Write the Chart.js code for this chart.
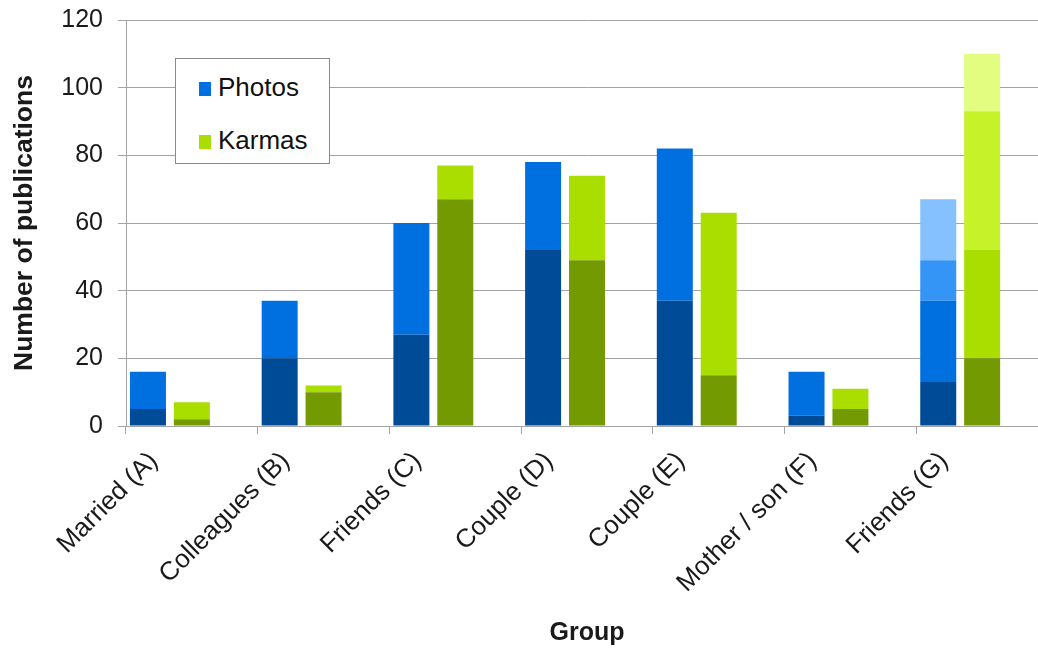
<!DOCTYPE html>
<html>
<head>
<meta charset="utf-8">
<script src="https://cdn.jsdelivr.net/npm/chart.js@4/dist/chart.umd.min.js"></script>
<style>
  html, body { margin: 0; padding: 0; background: #fff; overflow: hidden; }
  #wrap { position: relative; width: 1038px; height: 654px; overflow: hidden; }
  canvas { position: absolute; left: 0; top: 0; }
  #legend {
    position: absolute; left: 175px; top: 58px; width: 153px; height: 104px;
    border: 1px solid #8a8a8a; background: #fff;
    font-family: "Liberation Sans", Arial, sans-serif; font-size: 26px; color: #111;
  }
  .item { position: absolute; left: 23px; height: 28px; line-height: 28px; white-space: nowrap; }
  .sw { display: inline-block; width: 12px; height: 14px; margin-right: 7px; vertical-align: 0px; }
</style>
</head>
<body>
<div id="wrap">
  <canvas id="c" width="1048" height="654"></canvas>
  <div id="legend">
    <div class="item" style="top:14px"><span class="sw" style="background:#0070e0"></span>Photos</div>
    <div class="item" style="top:67px"><span class="sw" style="background:#aade00"></span>Karmas</div>
  </div>
</div>
<script>
// Groups of users
const groups = ['Married (A)', 'Colleagues (B)', 'Friends (C)', 'Couple (D)', 'Couple (E)', 'Mother / son (F)', 'Friends (G)'];

// Photos: stacked segments per group (one segment per member)
const photosSeg1 = [5, 20, 27, 52, 37, 3, 13];
const photosSeg2 = [11, 17, 33, 26, 45, 13, 24];
const photosSeg3 = [null, null, null, null, null, null, 12];
const photosSeg4 = [null, null, null, null, null, null, 18];

// Karmas: stacked segments per group
const karmasSeg1 = [2, 10, 67, 49, 15, 5, 20];
const karmasSeg2 = [5, 2, 10, 25, 48, 6, 32];
const karmasSeg3 = [null, null, null, null, null, null, 41];
const karmasSeg4 = [null, null, null, null, null, null, 17];

// Empty third slot in every group
const spacer = [null, null, null, null, null, null, null];

const yTicks = [0, 20, 40, 60, 80, 100, 120];

const FONT = '"Liberation Sans", Arial, sans-serif';
const GRID = '#a3a3a3';

function seg(label, data, color, stack) {
  return { label, data, backgroundColor: color, stack, borderWidth: 0,
           categoryPercentage: 1.0, barPercentage: 0.82 };
}

new Chart(document.getElementById('c'), {
  type: 'bar',
  data: {
    labels: groups,
    datasets: [
      seg('Photos', photosSeg1, '#004b98', 'photos'),
      seg('Photos 2', photosSeg2, '#0070e0', 'photos'),
      seg('Photos 3', photosSeg3, '#3595f7', 'photos'),
      seg('Photos 4', photosSeg4, '#85c0ff', 'photos'),
      seg('Karmas', karmasSeg1, '#739a00', 'karmas'),
      seg('Karmas 2', karmasSeg2, '#aade00', 'karmas'),
      seg('Karmas 3', karmasSeg3, '#c6f22a', 'karmas'),
      seg('Karmas 4', karmasSeg4, '#e2fd80', 'karmas'),
      seg('', spacer, 'rgba(0,0,0,0)', 'spacer')
    ]
  },
  options: {
    responsive: false,
    animation: false,
    layout: { padding: { top: 20, left: 0, right: 0, bottom: 0 } },
    plugins: { legend: { display: false }, tooltip: { enabled: false } },
    scales: {
      x: {
        stacked: true,
        grid: { offset: true, drawOnChartArea: false, drawTicks: true, tickLength: 8, color: GRID },
        border: { display: true, color: GRID, width: 1 },
        ticks: {
          minRotation: 45, maxRotation: 45, autoSkip: false, padding: 12, labelOffset: -38,
          color: '#1a1a1a', font: { family: FONT, size: 26 }
        },
        title: {
          display: true, text: 'Group', color: '#1a1a1a',
          font: { family: FONT, size: 25, weight: 'bold' }, padding: { top: 0, bottom: 6 }
        },
        afterFit: (s) => { s.height = 228; s.paddingLeft = 0; s.paddingRight = 0; }
      },
      y: {
        stacked: true,
        min: 0, max: 120,
        afterBuildTicks: (s) => { s.ticks = yTicks.map(v => ({ value: v })); },
        grid: { color: GRID, lineWidth: 1, tickLength: 8 },
        border: { display: true, color: GRID, width: 1 },
        ticks: { padding: 15, color: '#1a1a1a', font: { family: FONT, size: 25 } },
        title: {
          display: true, text: 'Number of publications', color: '#1a1a1a',
          font: { family: FONT, size: 26.5, weight: 'bold' }, padding: { top: 9, bottom: 0 }
        },
        afterFit: (s) => { s.width = 126; s.paddingTop = 0; s.paddingBottom = 0; }
      }
    }
  }
});
</script>
</body>
</html>
